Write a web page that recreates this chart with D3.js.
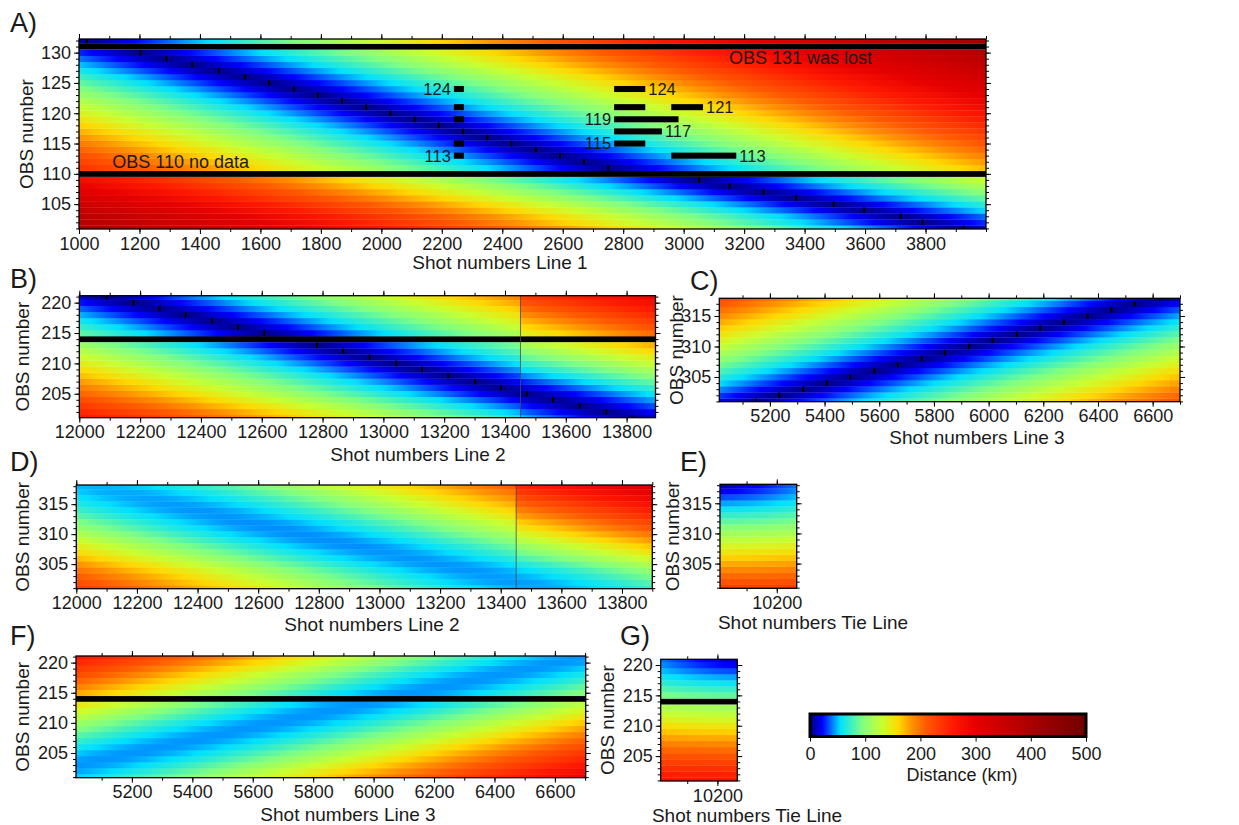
<!DOCTYPE html>
<html>
<head>
<meta charset="utf-8">
<script src="https://cdn.jsdelivr.net/npm/d3@7/dist/d3.min.js"></script>
<style>
  body { margin: 0; background: #fff; }
  svg text { font-family: "Liberation Sans", Arial, Helvetica, sans-serif; fill: #1a1a1a; }
</style>
</head>
<body>
<svg id="fig" width="1239" height="825"></svg>
<script>
// ---- colour bar: distance (km) -> colour ----
var cbStops  = [0, 22, 55, 95, 130, 160, 185, 210, 260, 300, 500];
var cbColors = ["#00007f", "#0000ff", "#00e0ff", "#80ff80", "#c8ff30", "#ffd800", "#ff9000", "#ff5a00", "#ff1800", "#e60000", "#700000"];
var cbTicks  = [0, 100, 200, 300, 400, 500];

// ---- A) Line 1 shots vs OBS 101-132 (null = no data) ----
var obsA  = [101, 102, 103, 104, 105, 106, 107, 108, 109, 110, 111, 112, 113, 114, 115, 116,
             117, 118, 119, 120, 121, 122, 123, 124, 125, 126, 127, 128, 129, 130, 131, 132];
var shotA = [3926, 3790, 3718, 3597, 3496, 3372, 3264, 3152, 3051, null, 2751, 2670, 2591, 2511, 2430, 2351,
             2270, 2190, 2111, 2030, 1950, 1870, 1790, 1711, 1629, 1550, 1462, 1375, 1289, 1203, null, 1026];
// missing traces in A
var gapObsA   = [124, 121, 119, 115, 113, 124, 121, 121, 119, 117, 115, 113];
var gapFromA  = [2240, 2240, 2240, 2240, 2240, 2770, 2770, 2959, 2770, 2770, 2770, 2959];
var gapToA    = [2273, 2273, 2273, 2273, 2273, 2873, 2873, 3064, 2983, 2928, 2873, 3174];
var gapLabelA = ["124", "", "", "", "113", "124", "", "121", "119", "117", "115", "113"];
var gapSideA  = ["left", "", "", "", "left", "right", "", "right", "left", "right", "left", "right"];

// ---- B) Line 2 shots vs OBS 201-221 ----
var obsB  = [201, 202, 203, 204, 205, 206, 207, 208, 209, 210, 211, 212, 213, 214, 215, 216, 217, 218, 219, 220, 221];
var shotB = [13819, 13733, 13646, 13558, 13472, 13387, 13302, 13214, 13127, 13042, 12955,
             12868, 12782, null, 12609, 12522, 12437, 12350, 12264, 12178, 12090];

// ---- C) Line 3 shots vs OBS 301-318 ----
var obsC  = [301, 302, 303, 304, 305, 306, 307, 308, 309, 310, 311, 312, 313, 314, 315, 316, 317, 318];
var shotC = [5149, 5234, 5322, 5408, 5494, 5582, 5668, 5755, 5840, 5929, 6015, 6103, 6189, 6275, 6362, 6449, 6535, 6623];

// ---- D) Line 2 shots vs OBS 301-318 (closest shot, closest distance km) ----
var shotD = [13510, 13440, 13370, 13290, 13200, 13100, 13010, 12920, 12830, 12740, 12650, 12570, 12480, 12400, 12320, 12240, 12160, 12080];
var offD  = [46, 45, 45, 44, 44, 44, 44, 43, 43, 43, 43, 43, 44, 44, 45, 46, 47, 48];

// ---- E) Tie line shots vs OBS 301-318 ----
var shotE = [9990, 9990, 9990, 9990, 9990, 9990, 9990, 9990, 9990, 9990, 9990, 9990, 9990, 9990, 9990, 9990, 9990, 9990];
var offE  = [228, 215, 202, 189, 176, 163, 150, 137, 124, 111, 98, 85, 72, 59, 46, 33, 20, 8];

// ---- F) Line 3 shots vs OBS 201-221 ----
var shotF = [4830, 4925, 5015, 5110, 5200, 5295, 5390, 5480, 5575, 5665, 5760,
             5850, 5945, null, 6130, 6225, 6320, 6410, 6505, 6600, 6690];
var offF  = [44, 44, 44, 44, 44, 44, 44, 44, 44, 44, 44, 44, 44, null, 44, 44, 44, 44, 44, 44, 44];

// ---- G) Tie line shots vs OBS 201-221 ----
var shotG = [10290, 10290, 10290, 10290, 10290, 10290, 10290, 10290, 10290, 10290, 10290,
             10290, 10290, null, 10290, 10290, 10290, 10290, 10290, 10290, 10290];
var offG  = [267, 254, 241, 228, 215, 202, 189, 176, 163, 150, 137, 124, 111, null, 85, 72, 59, 46, 33, 20, 8];

// tick values
var xMajorA = [1000, 1200, 1400, 1600, 1800, 2000, 2200, 2400, 2600, 2800, 3000, 3200, 3400, 3600, 3800];
var xMajorL2 = [12000, 12200, 12400, 12600, 12800, 13000, 13200, 13400, 13600, 13800];
var xMajorL3 = [5200, 5400, 5600, 5800, 6000, 6200, 6400, 6600];
var xMajorTie = [10200];
var yMajor100 = [105, 110, 115, 120, 125, 130];
var yMajor200 = [205, 210, 215, 220];
var yMajor300 = [305, 310, 315];

var panels = [
  { letter: "A)", lx: 10, ly: 32, obs: obsA, s0: shotA, d0: null, k: 0.137,
    xDom: [1000, 4000], yDom: [100.9, 132.25], box: [79, 39, 986, 229],
    xMajor: xMajorA, yMajor: yMajor100, markers: true,
    title: "Shot numbers Line 1", tx: 500, ty: 269, ylx: 26 },
  { letter: "B)", lx: 10, ly: 288, obs: obsB, s0: shotB, d0: null, k: 0.14, brk: 13451, stretch: 0.2,
    xDom: [12000, 13895], yDom: [201.05, 221.15], box: [79.3, 295.7, 655.5, 417.7],
    xMajor: xMajorL2, yMajor: yMajor200, markers: true,
    title: "Shot numbers Line 2", tx: 418, ty: 461, ylx: 22.5 },
  { letter: "C)", lx: 690, ly: 290, obs: obsC, s0: shotC, d0: null, k: 0.14,
    xDom: [5015, 6700], yDom: [300.95, 317.9], box: [719.3, 298.3, 1180, 401.7],
    xMajor: xMajorL3, yMajor: yMajor300, markers: true,
    title: "Shot numbers Line 3", tx: 977, ty: 444, ylx: 676.5 },
  { letter: "D)", lx: 10, ly: 471, obs: obsC, s0: shotD, d0: offD, k: 0.15, brk: 13451, stretch: 0.18,
    xDom: [12000, 13900], yDom: [300.9, 318.2], box: [76.3, 485, 652.3, 588.7],
    xMajor: xMajorL2, yMajor: yMajor300, markers: false,
    title: "Shot numbers Line 2", tx: 372, ty: 631, ylx: 22.5 },
  { letter: "E)", lx: 680, ly: 471, obs: obsC, s0: shotE, d0: offE, k: 0.14,
    xDom: [10012, 10266], yDom: [300.9, 318.15], box: [720, 484.3, 796.7, 588.3],
    xMajor: xMajorTie, yMajor: yMajor300, markers: false,
    title: "Shot numbers Tie Line", tx: 813, ty: 629, ylx: 672 },
  { letter: "F)", lx: 10, ly: 645, obs: obsB, s0: shotF, d0: offF, k: 0.155,
    xDom: [5015, 6702], yDom: [200.9, 221.1], box: [76, 656, 585.7, 777.7],
    xMajor: xMajorL3, yMajor: yMajor200, markers: false,
    title: "Shot numbers Line 3", tx: 348, ty: 821, ylx: 22.5 },
  { letter: "G)", lx: 620, ly: 645, obs: obsB, s0: shotG, d0: offG, k: 0.14,
    xDom: [10012, 10266], yDom: [200.9, 220.94], box: [660.7, 659.3, 737.3, 781],
    xMajor: xMajorTie, yMajor: yMajor200, markers: false,
    title: "Shot numbers Tie Line", tx: 747, ty: 822, ylx: 607 }
];

var svg = d3.select("#fig");
var defs = svg.append("defs");

var cmap = d3.scaleLinear().domain(cbStops).range(cbColors)
    .interpolate(d3.interpolateRgb).clamp(true);

// distance from shot s to the OBS in row i
function dist(p, i, s, after) {
  var s0 = p.s0[i];
  var d0 = p.d0 ? p.d0[i] : 3;
  var along = Math.abs(s - s0) * p.k;
  if (p.brk) {
    if (after && s0 < p.brk) along += p.stretch * (p.brk - s0) * p.k;
    if (!after && s0 > p.brk) along += p.stretch * (s0 - p.brk) * p.k;
  }
  return Math.sqrt(d0 * d0 + along * along);
}

panels.forEach(function (p, pi) {
  var b = p.box;
  var x = d3.scaleLinear().domain(p.xDom).range([b[0], b[2]]);
  var y = d3.scaleLinear().domain(p.yDom).range([b[3], b[1]]);
  var g = svg.append("g");

  defs.append("clipPath").attr("id", "clip" + pi)
    .append("rect").attr("x", b[0]).attr("y", b[1])
    .attr("width", b[2] - b[0]).attr("height", b[3] - b[1]);
  var plot = g.append("g").attr("clip-path", "url(#clip" + pi + ")");

  var x0 = p.xDom[0], x1 = p.xDom[1];
  var step = (x1 - x0) / 220;

  p.obs.forEach(function (o, i) {
    var ry = y(o + 0.5), rh = y(o - 0.5) - y(o + 0.5);
    if (p.s0[i] === null) {
      plot.append("rect").attr("x", b[0]).attr("y", ry)
        .attr("width", b[2] - b[0]).attr("height", rh).attr("fill", "#000");
      return;
    }
    var samples = d3.range(x0, x1, step).concat([x1]);
    if (p.s0[i] > x0 && p.s0[i] < x1) samples.push(p.s0[i]);
    samples.sort(d3.ascending);
    var stops = [];
    samples.forEach(function (s) {
      if (p.brk && s > p.brk && (stops.length === 0 || stops[stops.length - 1].s <= p.brk)) {
        stops.push({ s: p.brk, c: cmap(dist(p, i, p.brk, false)) });
        stops.push({ s: p.brk, c: cmap(dist(p, i, p.brk, true)) });
      }
      stops.push({ s: s, c: cmap(dist(p, i, s, p.brk && s > p.brk)) });
    });
    var gid = "gr" + pi + "_" + i;
    var grad = defs.append("linearGradient").attr("id", gid)
      .attr("x1", 0).attr("x2", 1).attr("y1", 0).attr("y2", 0);
    grad.selectAll("stop").data(stops).enter().append("stop")
      .attr("offset", function (d) { return (d.s - x0) / (x1 - x0); })
      .attr("stop-color", function (d) { return d.c; });
    plot.append("rect").attr("x", x(x0)).attr("y", ry)
      .attr("width", x(x1) - x(x0)).attr("height", rh + 0.3)
      .attr("fill", "url(#" + gid + ")");
  });

  // line break
  if (p.brk) {
    plot.append("line").attr("x1", x(p.brk)).attr("x2", x(p.brk))
      .attr("y1", b[1]).attr("y2", b[3])
      .attr("stroke", "#4a4a4a").attr("stroke-width", 0.8);
  }

  // closest-approach markers
  if (p.markers) {
    var mk = p.obs.map(function (o, i) { return { o: o, s: p.s0[i] }; })
      .filter(function (d) { return d.s !== null; });
    plot.selectAll(".mk").data(mk).enter().append("rect")
      .attr("x", function (d) { return x(d.s) - 1; })
      .attr("y", function (d) { return y(d.o) - 2.8; })
      .attr("width", 2).attr("height", 5.6).attr("fill", "#000");
  }

  // missing-trace bars and labels in A
  if (pi === 0) {
    gapObsA.forEach(function (o, j) {
      plot.append("rect").attr("x", x(gapFromA[j])).attr("y", y(o + 0.5))
        .attr("width", x(gapToA[j]) - x(gapFromA[j])).attr("height", y(o - 0.5) - y(o + 0.5))
        .attr("fill", "#000");
      if (gapLabelA[j]) {
        var left = gapSideA[j] === "left";
        g.append("text").attr("x", left ? x(gapFromA[j]) - 3 : x(gapToA[j]) + 3)
          .attr("y", y(o)).attr("dy", "0.36em")
          .attr("text-anchor", left ? "end" : "start")
          .attr("font-size", 16.5).text(gapLabelA[j]);
      }
    });
    g.append("text").attr("x", x(3150)).attr("y", y(128.1)).attr("font-size", 18)
      .text("OBS 131 was lost");
    g.append("text").attr("x", x(1110)).attr("y", y(111.0)).attr("font-size", 18)
      .text("OBS 110 no data");
  }

  // axes
  var yMinor = d3.range(Math.ceil(p.yDom[0]), Math.floor(p.yDom[1]) + 1);
  var xMinor = d3.range(Math.ceil(x0 / 100) * 100, x1 + 1, 100);
  function put(axis, tx, ty) {
    var a = g.append("g").attr("transform", "translate(" + tx + "," + ty + ")").call(axis);
    a.attr("font-size", 18).attr("font-family", null);
    a.select(".domain").remove();
    a.selectAll("line").attr("stroke", "#000");
    return a;
  }
  put(d3.axisBottom(x).tickValues(xMinor).tickSize(3).tickFormat(""), 0, b[3]);
  put(d3.axisBottom(x).tickValues(p.xMajor).tickSize(5).tickPadding(3).tickFormat(function (d) { return d; }), 0, b[3]);
  put(d3.axisTop(x).tickValues(xMinor).tickSize(3).tickFormat(""), 0, b[1]);
  put(d3.axisTop(x).tickValues(p.xMajor).tickSize(5).tickFormat(""), 0, b[1]);
  put(d3.axisLeft(y).tickValues(yMinor).tickSize(3).tickFormat(""), b[0], 0);
  put(d3.axisLeft(y).tickValues(p.yMajor).tickSize(5).tickPadding(3).tickFormat(function (d) { return d; }), b[0], 0);
  put(d3.axisRight(y).tickValues(yMinor).tickSize(3).tickFormat(""), b[2], 0);
  put(d3.axisRight(y).tickValues(p.yMajor).tickSize(5).tickFormat(""), b[2], 0);

  g.append("rect").attr("x", b[0]).attr("y", b[1])
    .attr("width", b[2] - b[0]).attr("height", b[3] - b[1])
    .attr("fill", "none").attr("stroke", "#000").attr("stroke-width", 1.3);

  // titles and panel letter
  g.append("text").attr("x", p.tx).attr("y", p.ty).attr("text-anchor", "middle")
    .attr("font-size", 19).text(p.title);
  g.append("text").attr("transform", "translate(" + p.ylx + "," + (b[1] + b[3]) / 2 + ") rotate(-90)")
    .attr("dy", "0.36em").attr("text-anchor", "middle").attr("font-size", 19).text("OBS number");
  g.append("text").attr("x", p.lx).attr("y", p.ly).attr("font-size", 27).text(p.letter);
});

// ---- colour bar ----
var cbx = d3.scaleLinear().domain([0, 500]).range([810, 1086]);
var cbGrad = defs.append("linearGradient").attr("id", "cbgrad")
  .attr("x1", 0).attr("x2", 1).attr("y1", 0).attr("y2", 0);
cbGrad.selectAll("stop").data(cbStops).enter().append("stop")
  .attr("offset", function (d) { return d / 500; })
  .attr("stop-color", function (d, i) { return cbColors[i]; });
svg.append("rect").attr("x", cbx(0)).attr("y", 714).attr("width", cbx(500) - cbx(0)).attr("height", 22.5)
  .attr("fill", "url(#cbgrad)").attr("stroke", "#000").attr("stroke-width", 3);
var cba = svg.append("g").attr("transform", "translate(0,737.5)")
  .call(d3.axisBottom(cbx).tickValues(cbTicks).tickSize(4).tickPadding(6));
cba.attr("font-size", 18).attr("font-family", null);
cba.select(".domain").remove();
svg.append("text").attr("x", 962).attr("y", 781).attr("text-anchor", "middle")
  .attr("font-size", 18).text("Distance (km)");
</script>
</body>
</html>
